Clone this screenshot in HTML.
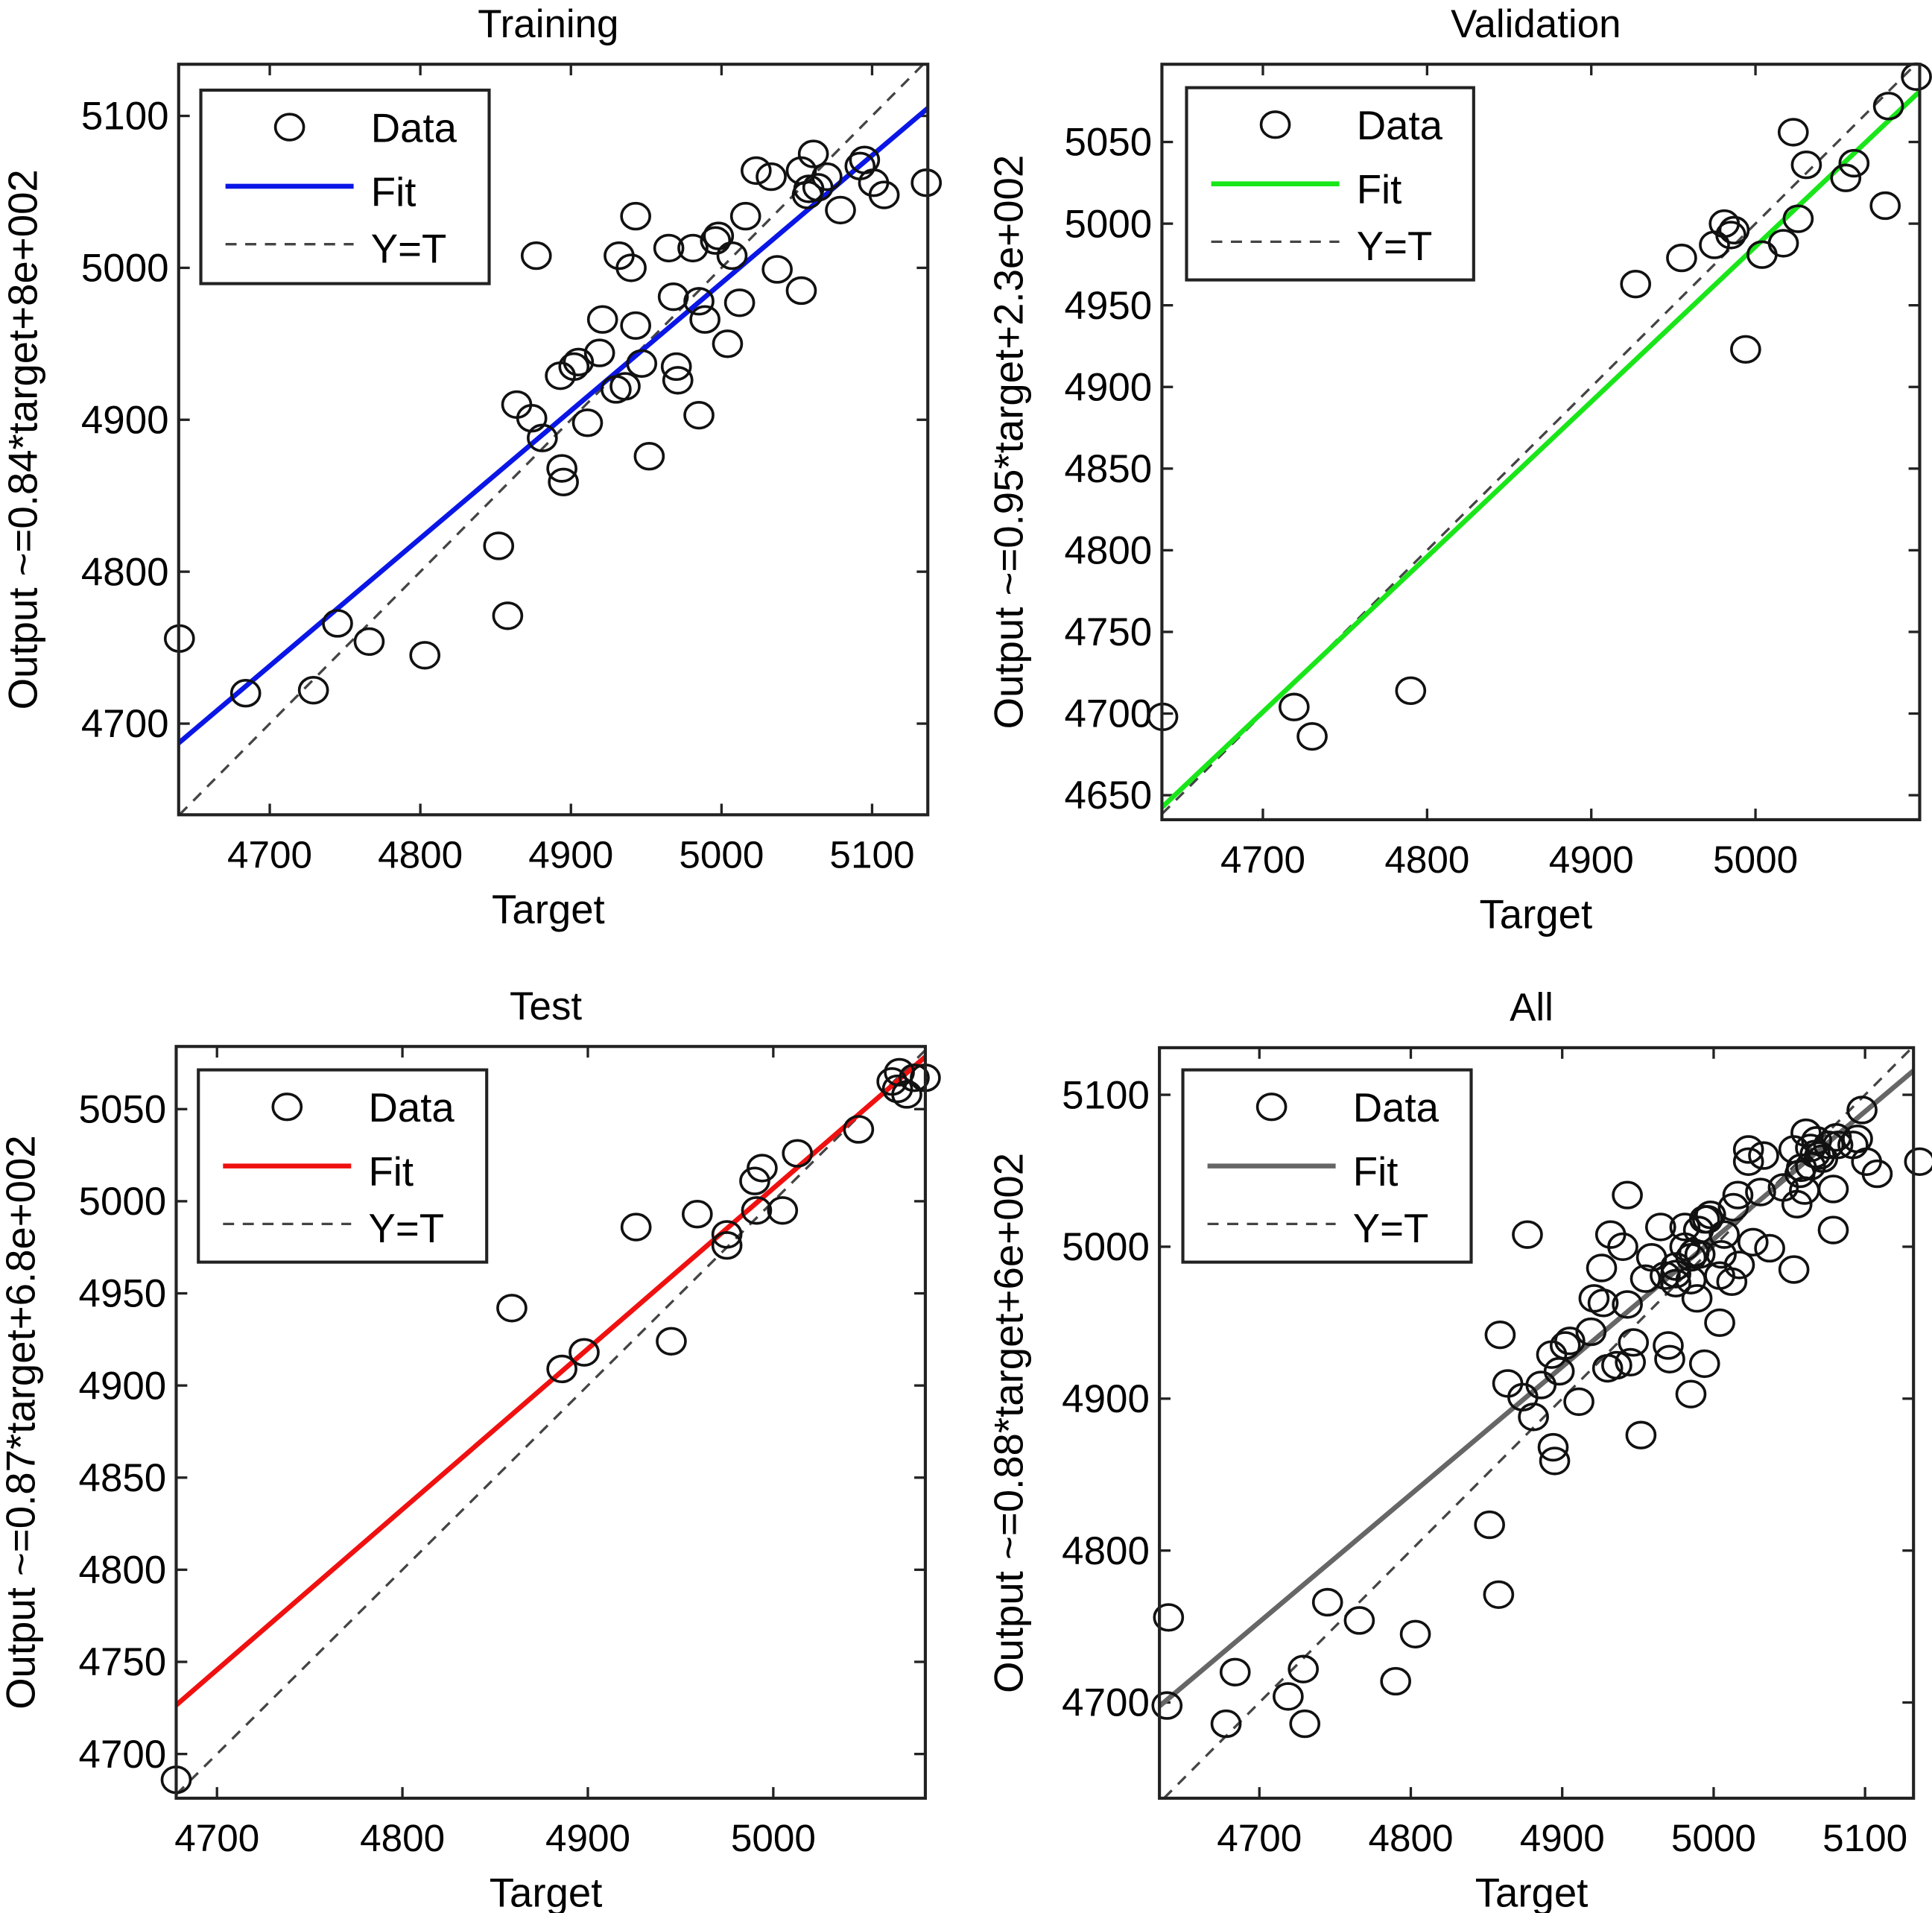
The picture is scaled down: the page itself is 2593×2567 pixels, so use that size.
<!DOCTYPE html>
<html><head><meta charset="utf-8"><style>
html,body{margin:0;padding:0;background:#fff;}
svg{display:block;}
text{font-family:"Liberation Sans",Arial,sans-serif;fill:#000;}
</style></head><body>
<svg id="fig" xmlns="http://www.w3.org/2000/svg" width="2593" height="2567" viewBox="0 0 1568 1552"></svg>
<script>
// ---- Data ----
const trainX = [4640,4684,4729,4745,4766,4803,4852,4858,4864,4874,4881,4877,4893,4894,4895,4902,4905,4911,4921,4919,4930,4932,4940,4943,4943,4936,4947,4952,4965,4968,4970,4971,4981,4985,4989,4985,4996,4998,5004,5007,5012,5016,5023,5033,5037,5053,5053,5057,5058,5061,5064,5070,5079,5092,5095,5101,5108,5136];
const trainY = [4756,4720,4722,4766,4754,4745,4817,4771,4910,4901,4888,5008,4929,4868,4859,4935,4938,4898,4966,4944,4920,5008,5000,5034,4962,4922,4937,4876,5013,4981,4935,4926,5013,4978,4966,4903,5018,5021,4950,5008,4977,5034,5064,5060,4999,4985,5064,5048,5052,5075,5053,5060,5038,5067,5071,5056,5048,5056];
const valX = [4639,4719,4730,4790,4927,4955,4975,4981,4987,4985,4994,5004,5017,5023,5031,5026,5055,5060,5081,5079,5098];
const valY = [4698,4704,4686,4714,4963,4979,4987,5000,4996,4993,4923,4981,4988,5056,5036,5003,5028,5037,5072,5011,5090];
const testX = [4678,4859,4886,4898,4926,4945,4959,4975,4975,4990,4991,4994,5005,5013,5046,5064,5067,5072,5076,5082,5068];
const testY = [4686,4942,4909,4918,4986,4924,4993,4982,4976,5011,4995,5018,4995,5026,5039,5065,5061,5058,5067,5067,5070];
const fitSlope = [0.84, 0.95, 0.871, 0.84];
const fitIntercept = [790, 236, 652, 805];
const xTicksTL = [4700,4800,4900,5000,5100];
const yTicksTL = [4700,4800,4900,5000,5100];
const xTicksTR = [4700,4800,4900,5000];
const yTicksTR = [4650,4700,4750,4800,4850,4900,4950,5000,5050];
const xTicksBL = [4700,4800,4900,5000];
const yTicksBL = [4700,4750,4800,4850,4900,4950,5000,5050];
const xTicksBR = [4700,4800,4900,5000,5100];
const yTicksBR = [4700,4800,4900,5000,5100];
const titles = ["Training","Validation","Test","All"];
const yLabels = ["Output ~=0.84*target+8e+002","Output ~=0.95*target+2.3e+002","Output ~=0.87*target+6.8e+002","Output ~=0.88*target+6e+002"];
const fitColors = ["#0a16e6","#19e619","#f01010","#666666"];

const NS = "http://www.w3.org/2000/svg";
const svg = document.getElementById('fig');
function mk(tag, attrs, parent){
  const e = document.createElementNS(NS, tag);
  for (const k in attrs) e.setAttribute(k, attrs[k]);
  (parent||svg).appendChild(e);
  return e;
}

const panels = [
  {box:[145,52,753,661], xr:[4639.5,5137], yr:[4640,5134], xs:trainX, ys:trainY, xt:xTicksTL, yt:yTicksTL, leg:[163,73,397,230], ylx:30},
  {box:[943,52,1558,665], xr:[4638.5,5100], yr:[4635,5097.6], xs:valX, ys:valY, xt:xTicksTR, yt:yTicksTR, leg:[963,71,1196,227], ylx:830},
  {box:[143,849,751,1459], xr:[4678,5082], yr:[4676,5084], xs:testX, ys:testY, xt:xTicksBL, yt:yTicksBL, leg:[161,868,395,1024], ylx:28},
  {box:[941,850,1553,1459], xr:[4634,5132], yr:[4637,5131], xs:trainX.concat(valX,testX), ys:trainY.concat(valY,testY), xt:xTicksBR, yt:yTicksBR, leg:[960,868,1194,1024], ylx:830}
];

panels.forEach((p,i)=>{
  const [x0,y0,x1,y1] = p.box;
  const g = mk('g',{});
  
  
  const sx = v => x0 + (v - p.xr[0])/(p.xr[1]-p.xr[0])*(x1-x0);
  const sy = v => y1 - (v - p.yr[0])/(p.yr[1]-p.yr[0])*(y1-y0);
  const clipId = 'clip'+i;
  const cp = mk('clipPath',{id:clipId},g);
  mk('rect',{x:x0,y:y0,width:x1-x0,height:y1-y0},cp);

  const t = mk('text',{x:(x0+x1)/2 - 4,y:y0-22,'font-size':32,'text-anchor':'middle'},g);
  t.textContent = titles[i];
  
  
  const xl = mk('text',{x:(x0+x1)/2 - 4,y:y1+88,'font-size':33,'text-anchor':'middle'},g);
  xl.textContent = 'Target';
  
  
  const yl = mk('text',{x:0,y:0,'font-size':33,'text-anchor':'middle',transform:`translate(${p.ylx},${(y0+y1)/2}) rotate(-90)`},g);
  yl.textContent = yLabels[i];
  
  

  p.xt.forEach(v=>{
    const X = sx(v);
    mk('line',{x1:X,y1:y1,x2:X,y2:y1-9,stroke:'#222','stroke-width':2},g);
    mk('line',{x1:X,y1:y0,x2:X,y2:y0+9,stroke:'#222','stroke-width':2},g);
    const tl = mk('text',{x:X,y:y1+43,'font-size':31,'text-anchor':'middle'},g);
    tl.textContent = v;
    
    
  });
  p.yt.forEach(v=>{
    const Y = sy(v);
    mk('line',{x1:x0,y1:Y,x2:x0+9,y2:Y,stroke:'#222','stroke-width':2},g);
    mk('line',{x1:x1,y1:Y,x2:x1-9,y2:Y,stroke:'#222','stroke-width':2},g);
    const tl = mk('text',{x:x0-8,y:Y+11,'font-size':32,'text-anchor':'end'},g);
    tl.textContent = v;
    
    
  });

  const plot = mk('g',{'clip-path':`url(#${clipId})`},g);
  const lo = Math.max(p.xr[0],p.yr[0]), hi = Math.min(p.xr[1],p.yr[1]);
  const dl = mk('line',{x1:sx(lo),y1:sy(lo),x2:sx(hi),y2:sy(hi),stroke:'#444','stroke-width':2,'stroke-dasharray':'9,7'},plot);
  
  
  const fa = fitSlope[i], fb = fitIntercept[i];
  const fl = mk('line',{x1:sx(p.xr[0]),y1:sy(fa*p.xr[0]+fb),x2:sx(p.xr[1]),y2:sy(fa*p.xr[1]+fb),stroke:fitColors[i],'stroke-width':4},plot);
  
  
  p.xs.forEach((v,k)=>{
    const c = mk('ellipse',{cx:sx(v),cy:sy(p.ys[k]),rx:11.5,ry:10.5,fill:'none',stroke:'#111','stroke-width':2.2},g);
    
    
  });

  mk('rect',{x:x0,y:y0,width:x1-x0,height:y1-y0,fill:'none',stroke:'#222','stroke-width':2.5},g);

  const [lx0,ly0,lx1,ly1] = p.leg;
  const lg = mk('g',{},g);
  
  
  mk('rect',{x:lx0,y:ly0,width:lx1-lx0,height:ly1-ly0,fill:'#fff',stroke:'#222','stroke-width':2.5},lg);
  mk('ellipse',{cx:lx0+72,cy:ly0+30,rx:11.5,ry:10.5,fill:'none',stroke:'#111','stroke-width':2.2},lg);
  mk('line',{x1:lx0+20,y1:ly0+78,x2:lx0+124,y2:ly0+78,stroke:fitColors[i],'stroke-width':4},lg);
  mk('line',{x1:lx0+20,y1:ly0+125,x2:lx0+124,y2:ly0+125,stroke:'#444','stroke-width':2,'stroke-dasharray':'9,7'},lg);
  [['Data',42],['Fit',94],['Y=T',140]].forEach(([s,dy])=>{
    const e = mk('text',{x:lx0+138,y:ly0+dy,'font-size':33},lg);
    e.textContent = s;
    
    
  });
});
</script>
</body></html>
